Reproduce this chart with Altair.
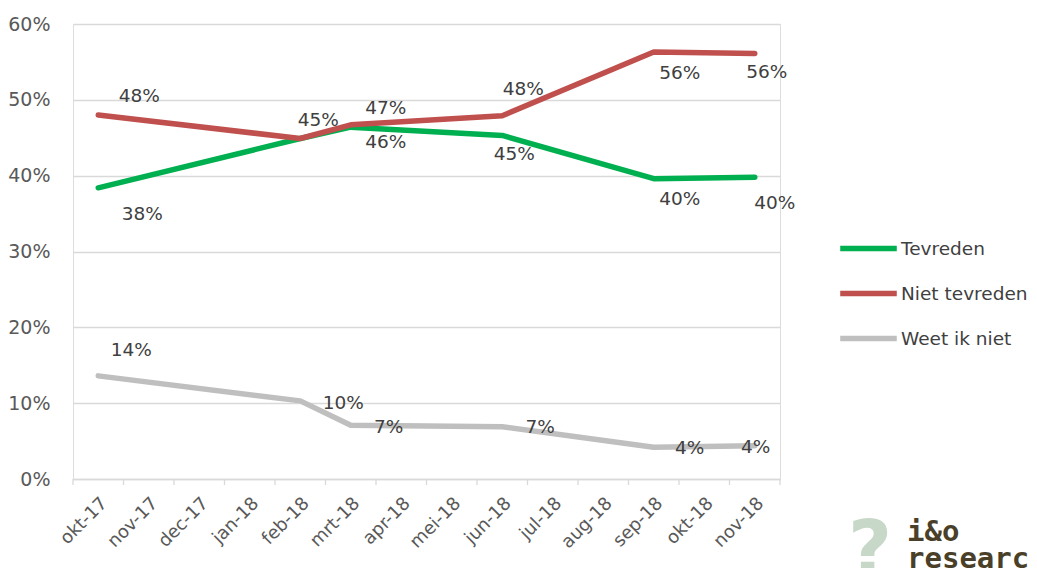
import altair as alt
import pandas as pd

# ---- data ----
months = ["okt-17", "nov-17", "dec-17", "jan-18", "feb-18", "mrt-18", "apr-18",
          "mei-18", "jun-18", "jul-18", "aug-18", "sep-18", "okt-18", "nov-18"]
measured = ["okt-17", "feb-18", "mrt-18", "jun-18", "sep-18", "nov-18"]
series_names = ["Tevreden", "Niet tevreden", "Weet ik niet"]
tevreden = [0.384, 0.449, 0.464, 0.453, 0.396, 0.398]
niet_tevreden = [0.480, 0.449, 0.467, 0.479, 0.563, 0.561]
weet_ik_niet = [0.136, 0.103, 0.071, 0.069, 0.042, 0.044]

# label placement (pixel offsets from the point), styling only
tev_dx = [44, 0, 35, 12, 26, 20]
tev_dy = [26, 0, 15, 19, 20, 26]
tev_show = [True, False, True, True, True, True]
niet_dx = [41, 18, 35, 21, 26, 12]
niet_dy = [-19, -19, -17, -27, 21, 18]
weet_dx = [33, 43, 38, 38, 36, 1]
weet_dy = [-26, 2, 2, 0, 1, 1]

colors = ["#00B050", "#C0504D", "#BFBFBF"]

rows = []
for name, vals, dxs, dys, shows in [
    ("Tevreden", tevreden, tev_dx, tev_dy, tev_show),
    ("Niet tevreden", niet_tevreden, niet_dx, niet_dy, [True] * 6),
    ("Weet ik niet", weet_ik_niet, weet_dx, weet_dy, [True] * 6),
]:
    for m, v, dx, dy, s in zip(measured, vals, dxs, dys, shows):
        rows.append({"month": m, "series": name, "value": v, "dx": dx, "dy": dy, "show": s})
df = pd.DataFrame(rows)
df["label"] = (df["value"] * 100).round().astype(int).astype(str) + "%"
df["order"] = df["month"].map({m: i for i, m in enumerate(months)})

months_df = pd.DataFrame({"month": months})

W, H = 707, 455
YMAX = 0.6
STEP = W / len(months)
FONT = "DejaVu Sans"
TXT = "#404040"
AX = "#595959"

xscale = alt.Scale(type="band", domain=months, paddingInner=0, paddingOuter=0)
yscale = alt.Scale(domain=[0, YMAX], nice=False)

lines = alt.Chart(df).mark_line(strokeWidth=5.5, strokeCap="round", strokeJoin="round").encode(
    x=alt.X("month:N", scale=xscale, sort=months,
            axis=alt.Axis(title=None, labelAngle=-45, labelAlign="right", labelBaseline="top",
                          labelFontSize=18, labelColor=AX, labelFont=FONT,
                          ticks=False, domainColor="#D9D9D9", domainWidth=1.3,
                          labelPadding=15, grid=False)),
    y=alt.Y("value:Q", scale=yscale,
            axis=alt.Axis(title=None, format=".0%", values=[0, 0.1, 0.2, 0.3, 0.4, 0.5, 0.6],
                          labelFontSize=19, labelColor=AX, labelFont=FONT,
                          domain=False, ticks=False, labelPadding=23,
                          gridColor="#D9D9D9", gridWidth=1.3)),
    color=alt.Color("series:N", scale=alt.Scale(domain=series_names, range=colors),
                    legend=alt.Legend(title=None, orient="none", legendX=764, legendY=193,
                                      symbolType="stroke", symbolSize=3200, symbolStrokeWidth=5.5,
                                      labelFontSize=18.5, labelColor=TXT, labelFont=FONT,
                                      labelOffset=1, rowPadding=2, labelLimit=200)),
    order="order:Q",
)

ticks_start = alt.Chart(months_df).mark_rule(color="#D9D9D9", strokeWidth=1.3).encode(
    x=alt.X("month:N", scale=xscale, sort=months, bandPosition=0),
    y=alt.value(H), y2=alt.value(H + 6),
)
ticks_end = alt.Chart(months_df).transform_filter(
    alt.datum.month == months[-1]
).mark_rule(color="#D9D9D9", strokeWidth=1.3).encode(
    x=alt.X("month:N", scale=xscale, sort=months, bandPosition=1),
    y=alt.value(H), y2=alt.value(H + 6),
)

labels = alt.Chart(df).transform_filter("datum.show").transform_calculate(
    lx=f"datum.order + datum.dx / {STEP}",
    ly=f"datum.value - datum.dy * {YMAX} / {H}",
).mark_text(
    fontSize=18.5, font=FONT, color=TXT, align="center", baseline="middle"
).encode(
    x=alt.X("lx:Q", scale=alt.Scale(domain=[-0.5, len(months) - 0.5], nice=False, zero=False), axis=None),
    y=alt.Y("ly:Q", scale=yscale),
    text="label:N",
)

logo_df = pd.DataFrame({"t": ["?", "i&o", "researc"]})
logo_q = alt.Chart(logo_df).transform_filter(alt.datum.t == "?").mark_text(
    fontSize=76, font="DejaVu Sans", fontWeight="bold", color="#C8D8C8", align="left", baseline="alphabetic"
).encode(text="t:N", x=alt.value(775), y=alt.value(551))
logo_a = alt.Chart(logo_df).transform_filter(alt.datum.t == "i&o").mark_text(
    fontSize=29, font="DejaVu Sans Mono", fontWeight="bold", color="#4A3F28", align="left", baseline="alphabetic"
).encode(text="t:N", x=alt.value(834), y=alt.value(517))
logo_b = alt.Chart(logo_df).transform_filter(alt.datum.t == "researc").mark_text(
    fontSize=29, font="DejaVu Sans Mono", fontWeight="bold", color="#4A3F28", align="left", baseline="alphabetic"
).encode(text="t:N", x=alt.value(834), y=alt.value(544))

base = alt.layer(ticks_start, ticks_end, lines)
chart = alt.layer(base, labels, logo_q, logo_a, logo_b).resolve_scale(x="independent").properties(
    width=W, height=H,
    autosize=alt.AutoSizeParams(type="none"),
    padding={"left": 65, "top": 16, "right": 249, "bottom": 89},
).configure_view(stroke=None).configure(background="white")

chart.save("out.html", embed_options={"renderer": "svg", "actions": False})
